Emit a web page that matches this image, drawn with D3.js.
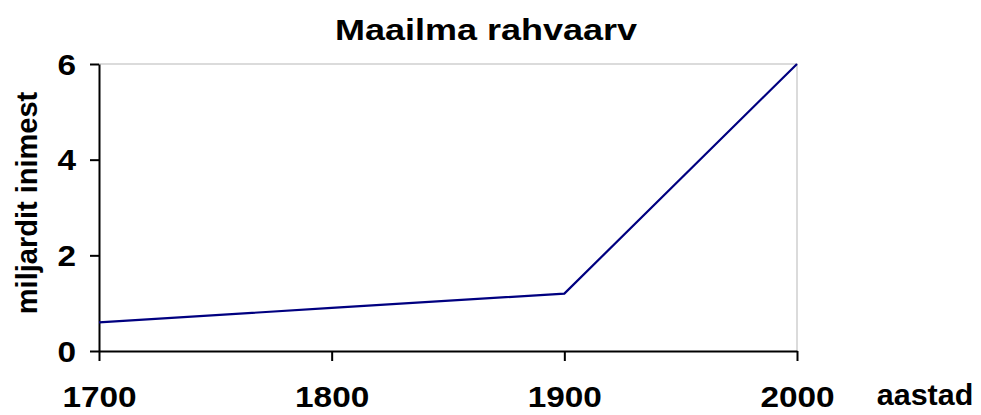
<!DOCTYPE html>
<html>
<head>
<meta charset="utf-8">
<script src="https://d3js.org/d3.v7.min.js"></script>
<style>
  body { margin: 0; background: #fff; }
  text { font-family: "Liberation Sans", Arial, sans-serif; font-weight: bold; fill: #000; }
</style>
</head>
<body>
<svg width="981" height="415"></svg>
<script>
  // world population, billions
  var years = [1700, 1800, 1900, 2000];
  var population = [0.6, 0.9, 1.2, 6];
  var yTicks = [0, 2, 4, 6];

  var svg = d3.select("svg");
  var plotLeft = 99, plotRight = 797, plotTop = 64, plotBottom = 351;
  var sx = 1.15; // the picture is a bit wider than the fonts

  var x = d3.scaleLinear().domain([1700, 2000]).range([plotLeft, plotRight]);
  var y = d3.scaleLinear().domain([0, 6]).range([plotBottom, plotTop]);

  // top and right frame
  svg.append("path")
    .attr("d", "M" + plotLeft + "," + plotTop + "H" + plotRight + "V" + plotBottom)
    .attr("fill", "none")
    .attr("stroke", "#d0d0d0")
    .attr("stroke-width", 1.5);

  var xAxis = svg.append("g")
    .attr("transform", "translate(0," + plotBottom + ")")
    .call(d3.axisBottom(x).tickValues(years).tickFormat(d3.format("d")).tickSize(10).tickSizeOuter(0));
  xAxis.selectAll("text")
    .attr("y", 0).attr("dy", 0)
    .attr("transform", "translate(0,56) scale(" + sx + ",1)");

  var yAxis = svg.append("g")
    .attr("transform", "translate(" + plotLeft + ",0)")
    .call(d3.axisLeft(y).tickValues(yTicks).tickFormat(d3.format("d")).tickSize(9).tickSizeOuter(0));
  yAxis.selectAll("text")
    .attr("x", 0).attr("dy", 0)
    .attr("transform", "translate(-23,10) scale(" + sx + ",1)");

  svg.selectAll(".domain, .tick line").attr("stroke", "#000").attr("stroke-width", 2);
  svg.selectAll("g").attr("font-family", null).attr("font-size", null);
  svg.selectAll(".tick text").style("font-size", "29px");

  var line = d3.line()
    .x(function(d, i) { return x(years[i]); })
    .y(function(d) { return y(d); });

  svg.append("path")
    .datum(population)
    .attr("d", line)
    .attr("fill", "none")
    .attr("stroke", "#000080")
    .attr("stroke-width", 2.2);

  svg.append("text")
    .attr("transform", "translate(486,40) scale(1.2,1)")
    .attr("text-anchor", "middle")
    .style("font-size", "30px")
    .text("Maailma rahvaarv");

  svg.append("text")
    .attr("transform", "translate(925,405) scale(1.05,1)")
    .attr("text-anchor", "middle")
    .style("font-size", "29px")
    .text("aastad");

  svg.append("text")
    .attr("transform", "translate(37,203) rotate(-90)")
    .attr("text-anchor", "middle")
    .style("font-size", "29px")
    .text("miljardit inimest");
</script>
</body>
</html>
